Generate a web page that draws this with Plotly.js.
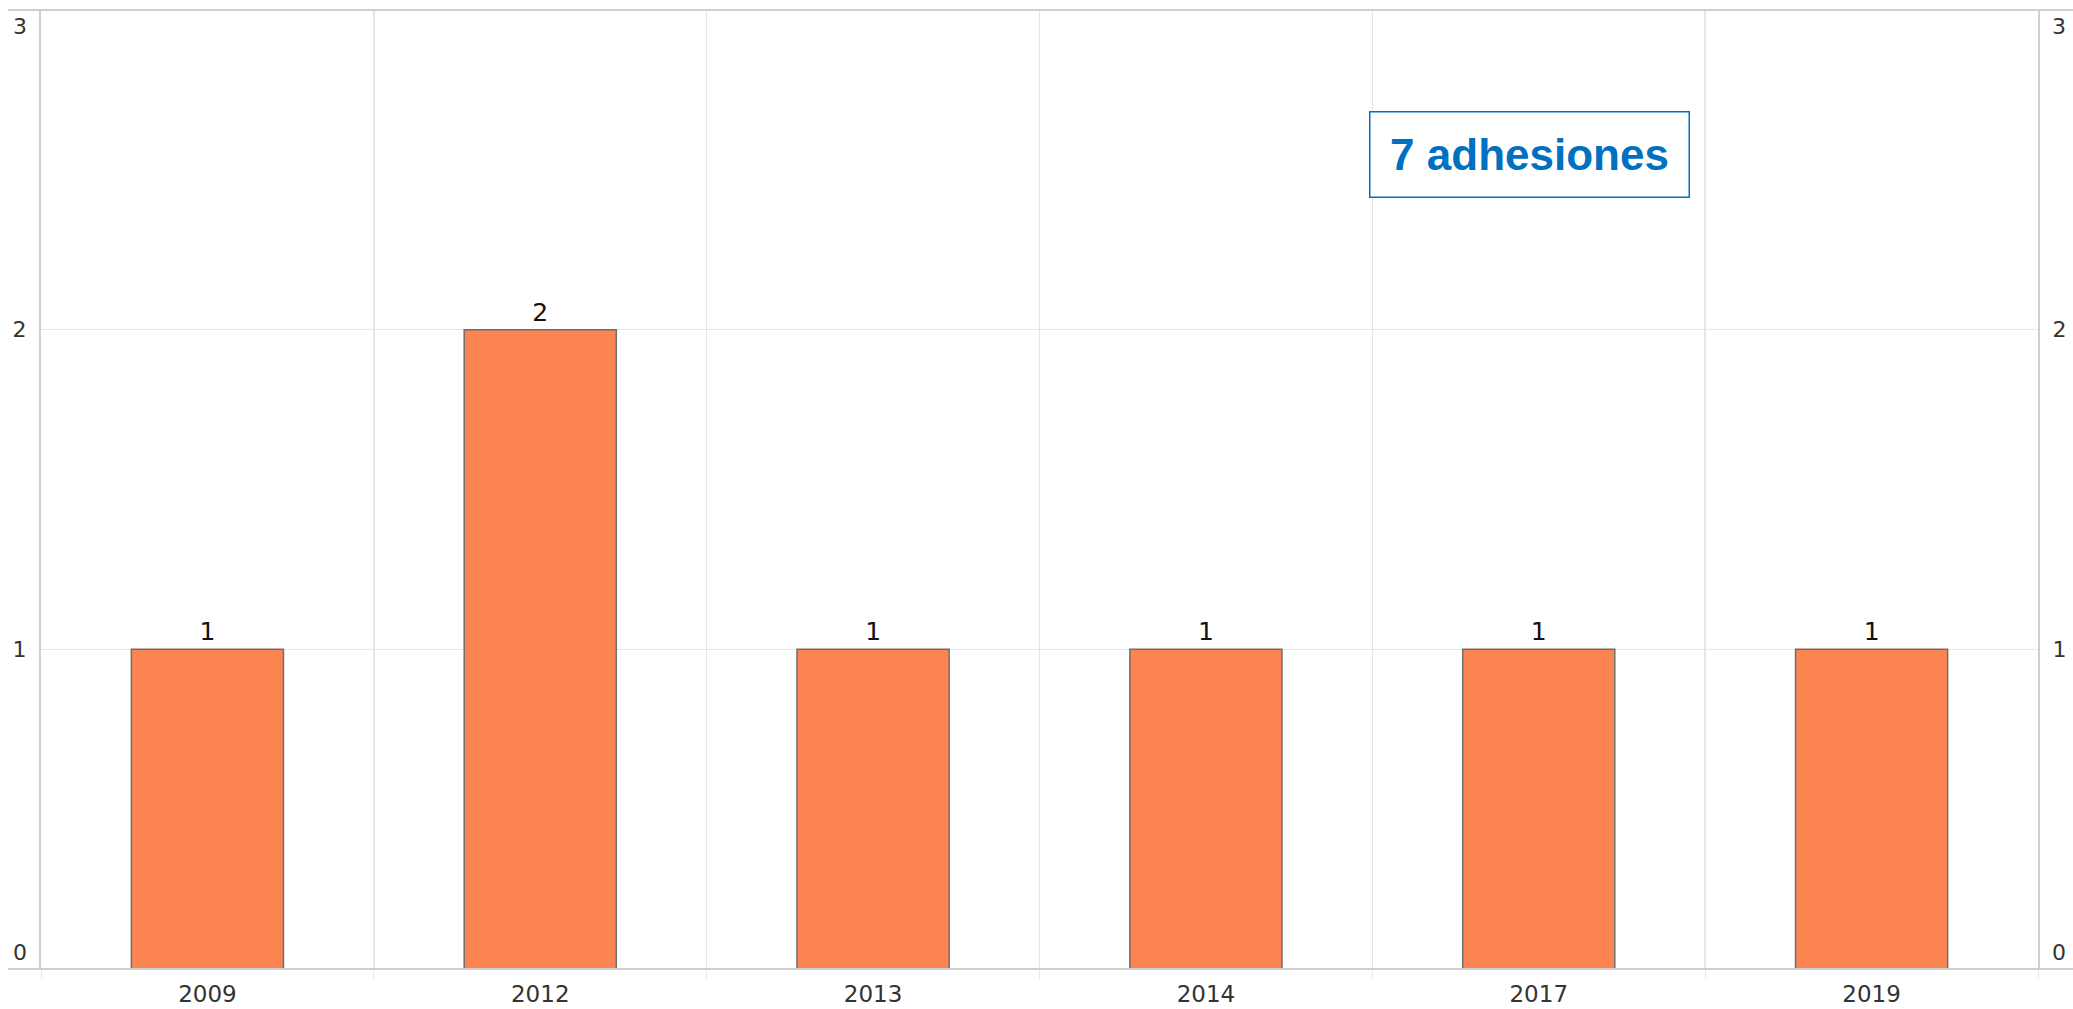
<!DOCTYPE html>
<html>
<head>
<meta charset="utf-8">
<script src="https://cdn.plot.ly/plotly-3.0.1.min.js"></script>
<style>html,body{margin:0;padding:0;background:#fff;}#chart{width:2073px;height:1009px;}</style>
</head>
<body>
<div id="chart"></div>
<script>
// Data
const years = ["2009", "2012", "2013", "2014", "2017", "2019"];
const adhesiones = [1, 2, 1, 1, 1, 1];
const yTicks = [0, 1, 2, 3];
const totalLabel = "7 adhesiones";

const tickFont = {family: "DejaVu Sans, Verdana, sans-serif", size: 22, color: "#333333"};
const xTickFont = {family: "DejaVu Sans, Verdana, sans-serif", size: 23, color: "#333333"};
const lineCol = "#cfcfcf";
const gridCol = "#e6e6e6";

const innerTicks = yTicks.slice(1, -1);
const yMin = yTicks[0], yMax = yTicks[yTicks.length - 1];

const traces = [{
  type: "bar",
  x: years,
  y: adhesiones,
  text: adhesiones.map(String),
  textposition: "outside",
  cliponaxis: false,
  textfont: {family: "DejaVu Sans, Verdana, sans-serif", size: 25, color: "#111111"},
  marker: {color: "#FC8450", line: {color: "#6e6e6e", width: 1.5}},
  hoverinfo: "skip"
}];

// edge tick labels (0 and 3) are drawn inside the plot like the reference
const ann = [];
[yMin, yMax].forEach(v => {
  const shift = v === yMin ? 17 : -16;
  ann.push({xref: "paper", yref: "y", x: 0, y: v, xanchor: "right", yanchor: "middle",
    xshift: -12, yshift: shift, text: String(v), showarrow: false, font: tickFont});
  ann.push({xref: "paper", yref: "y", x: 1, y: v, xanchor: "left", yanchor: "middle",
    xshift: 12, yshift: shift, text: String(v), showarrow: false, font: tickFont});
});
ann.push({
  xref: "paper", yref: "paper", x: 0.7456, y: 0.8498, xanchor: "center", yanchor: "middle",
  text: "<b>" + totalLabel + "</b>", showarrow: false,
  font: {family: "Liberation Sans, Arial, sans-serif", size: 44, color: "#0070C0"},
  bordercolor: "#0070C0", borderwidth: 1.5, bgcolor: "#ffffff",
  width: 316, height: 82
});

const layout = {
  width: 2073, height: 1009,
  margin: {l: 41, r: 35, t: 10, b: 40},
  paper_bgcolor: "#ffffff", plot_bgcolor: "#ffffff",
  showlegend: false,
  bargap: 0.543,
  xaxis: {
    type: "category",
    tickson: "boundaries",
    showgrid: true, gridcolor: gridCol, gridwidth: 1.5,
    showline: false, zeroline: false,
    ticks: "outside", ticklen: 9, tickcolor: "#e8e8e8", tickwidth: 1,
    ticklabelstandoff: 9,
    tickfont: xTickFont,
    fixedrange: true
  },
  yaxis: {
    range: [yMin, yMax],
    tickvals: innerTicks, ticktext: innerTicks.map(String),
    showgrid: true, gridcolor: gridCol, gridwidth: 1.5,
    zeroline: false,
    showline: true, linecolor: lineCol, linewidth: 2,
    ticks: "", ticklabelstandoff: 8,
    tickfont: tickFont,
    fixedrange: true
  },
  yaxis2: {
    overlaying: "y", side: "right", anchor: "x",
    range: [yMin, yMax],
    tickvals: innerTicks, ticktext: innerTicks.map(String),
    showgrid: false, zeroline: false,
    showline: true, linecolor: lineCol, linewidth: 2,
    ticks: "", ticklabelstandoff: 8,
    tickfont: tickFont,
    fixedrange: true
  },
  shapes: [
    {type: "line", xref: "paper", yref: "paper", x0: -0.0165, x1: 1.02, y0: 1, y1: 1,
     line: {color: lineCol, width: 2}},
    {type: "line", xref: "paper", yref: "paper", x0: -0.0165, x1: 1.02, y0: 0, y1: 0,
     line: {color: lineCol, width: 2}}
  ],
  annotations: ann
};

traces.push({type: "scatter", x: years, y: adhesiones, yaxis: "y2", mode: "markers",
  marker: {opacity: 0}, hoverinfo: "skip", showlegend: false});

Plotly.newPlot("chart", traces, layout, {displayModeBar: false, staticPlot: true});
</script>
</body>
</html>
